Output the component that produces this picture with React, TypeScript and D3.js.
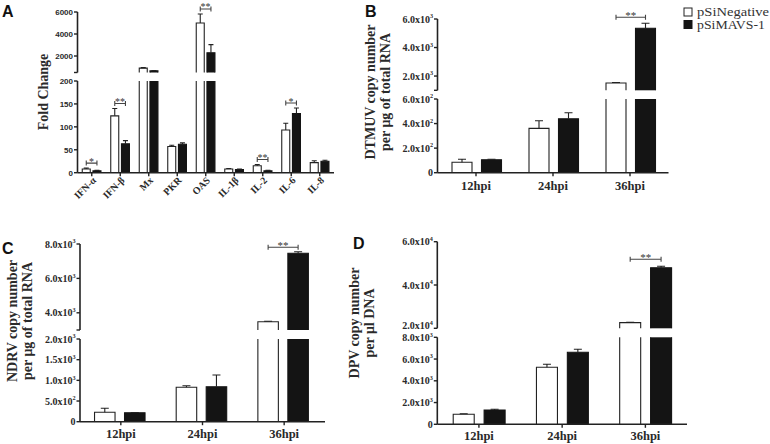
import React from "react";
import * as d3 from "d3";

// ---------- DATA ----------
const cytokines = ["IFN-α", "IFN-β", "Mx", "PKR", "OAS", "IL-1β", "IL-2", "IL-6", "IL-8"];
const foldNeg = [8, 124, 900, 57, 5000, 8, 15, 93, 22];
const foldNegErr = [2, 16, 40, 3, 820, 1, 3, 15, 4];
const foldMavs = [4, 63, 650, 62, 2300, 7, 4, 129, 25];
const foldMavsErr = [1, 7, 30, 3, 730, 1, 1, 12, 2];
const foldSig = [
  { i: 0, label: "*" },
  { i: 1, label: "**" },
  { i: 4, label: "**" },
  { i: 6, label: "**" },
  { i: 7, label: "*" },
];
const foldLowerTicks = [0, 50, 100, 150, 200];
const foldUpperTicks = [2000, 4000, 6000];

const timepoints = ["12hpi", "24hpi", "36hpi"];

const dtmuvNeg = [85, 361, 1510];
const dtmuvNegErr = [24, 62, 40];
const dtmuvMavs = [106, 439, 5350];
const dtmuvMavsErr = [3, 49, 350];
const dtmuvLowerTicks = [0, 200, 400, 600];
const dtmuvUpperTicks = [2000, 4000, 6000];

const ndrvNeg = [227, 832, 3480];
const ndrvNegErr = [97, 38, 30];
const ndrvMavs = [218, 846, 7460];
const ndrvMavsErr = [5, 284, 90];
const ndrvLowerTicks = [0, 500, 1000, 1500, 2000];
const ndrvUpperTicks = [4000, 6000, 8000];

const dpvNeg = [920, 5240, 22600];
const dpvNegErr = [55, 280, 150];
const dpvMavs = [1315, 6620, 48000];
const dpvMavsErr = [65, 280, 640];
const dpvLowerTicks = [0, 2000, 4000, 6000, 8000];
const dpvUpperTicks = [20000, 40000, 60000];

const legendLabels = ["pSiNegative", "pSiMAVS-1"];

// ---------- HELPERS ----------
const SERIF = "'Liberation Serif', 'Times New Roman', serif";
const SANS = "'Liberation Sans', Arial, sans-serif";
const INK = "#222";
const BLACK = "#141414";
const TXT = "#2a2a2a";

function sci(v: number): [string, string | null] {
  if (v === 0) return ["0", null];
  const e = Math.floor(Math.log10(v) + 1e-9);
  const m = v / Math.pow(10, e);
  return [m.toFixed(1) + "x10", String(e)];
}
function plain(v: number): [string, string | null] {
  return [String(v), null];
}

type Seg = { domain: [number, number]; range: [number, number]; ticks: number[] };

type PanelProps = {
  cats: string[];
  neg: number[];
  negErr: number[];
  mavs: number[];
  mavsErr: number[];
  x0: number;
  x1: number;
  lower: Seg;
  upper: Seg;
  fmt: (v: number) => [string, string | null];
  tickFont: string;
  tickSize: number;
  barW: number;
  whiteOff: number;
  blackOff: number;
  capW: number;
  sig: { i: number; label: string }[];
  sigGap: number;
  starSize: number;
  rotateX: boolean;
  xLabelY: number;
  xLabelSize: number;
};

function Panel(p: PanelProps) {
  const x = d3.scaleBand<string>().domain(p.cats).range([p.x0, p.x1]);
  const lo = d3.scaleLinear().domain(p.lower.domain).range(p.lower.range);
  const up = d3.scaleLinear().domain(p.upper.domain).range(p.upper.range);
  const loMax = p.lower.domain[1];
  const yv = (v: number) => (v > loMax ? up(v) : lo(v));
  const y0 = lo(0);
  const cx = (c: string) => (x(c) as number) + x.bandwidth() / 2;

  const series = [
    { vals: p.neg, errs: p.negErr, off: p.whiteOff, fill: "#fff", stroke: INK },
    { vals: p.mavs, errs: p.mavsErr, off: p.blackOff, fill: BLACK, stroke: BLACK },
  ];

  const els: React.ReactNode[] = [];
  series.forEach((s, si) => {
    p.cats.forEach((c, ci) => {
      const v = s.vals[ci];
      const bx = cx(c) + s.off;
      const pieces: { yb: number; yt: number; closed: boolean }[] = [];
      if (v <= loMax) {
        pieces.push({ yb: y0, yt: lo(v), closed: true });
      } else {
        pieces.push({ yb: y0, yt: lo(loMax), closed: false });
        pieces.push({ yb: up(p.upper.domain[0]), yt: up(v), closed: true });
      }
      pieces.forEach((pc, k) => {
        els.push(
          <rect key={`r${si}-${ci}-${k}`} x={bx} y={pc.yt} width={p.barW} height={pc.yb - pc.yt} fill={s.fill} stroke="none" />
        );
        const d = pc.closed
          ? `M${bx},${pc.yb}V${pc.yt}H${bx + p.barW}V${pc.yb}`
          : `M${bx},${pc.yb}V${pc.yt}M${bx + p.barW},${pc.yt}V${pc.yb}`;
        els.push(<path key={`o${si}-${ci}-${k}`} d={d} fill="none" stroke={s.stroke} strokeWidth={1.1} />);
      });
      // error bar
      const ex = bx + p.barW / 2;
      const yTop = yv(v + s.errs[ci]);
      els.push(
        <path
          key={`e${si}-${ci}`}
          d={`M${ex},${yv(v)}V${yTop}M${ex - p.capW / 2},${yTop}H${ex + p.capW / 2}`}
          fill="none"
          stroke={INK}
          strokeWidth={1.1}
        />
      );
    });
  });

  // significance brackets
  p.sig.forEach((g, k) => {
    const c = p.cats[g.i];
    const xa = cx(c) + p.whiteOff + p.barW / 2;
    const xb = cx(c) + p.blackOff + p.barW / 2;
    const yt = Math.min(yv(p.neg[g.i] + p.negErr[g.i]), yv(p.mavs[g.i] + p.mavsErr[g.i])) - p.sigGap;
    els.push(
      <path
        key={`s${k}`}
        d={`M${xa},${yt - 2.5}V${yt + 2.5}M${xa},${yt}H${xb}M${xb},${yt - 2.5}V${yt + 2.5}`}
        fill="none"
        stroke="#444"
        strokeWidth={1.1}
      />
    );
    els.push(
      <text key={`st${k}`} x={(xa + xb) / 2} y={yt + 1.5} textAnchor="middle" fontFamily={SERIF} fontSize={p.starSize} fill="#333">
        {g.label}
      </text>
    );
  });

  // y axis
  const axisEls: React.ReactNode[] = [];
  axisEls.push(
    <line key="yl" x1={p.x0} x2={p.x0} y1={y0} y2={p.lower.range[1]} stroke={INK} strokeWidth={1.6} />
  );
  axisEls.push(
    <line key="yu" x1={p.x0} x2={p.x0} y1={p.upper.range[0]} y2={p.upper.range[1]} stroke={INK} strokeWidth={1.6} />
  );
  const tickEls = (vals: number[], sc: (v: number) => number, pre: string, lift: (v: number) => number) =>
    vals.map((v) => {
      const yy = sc(v);
      const [t, sup] = p.fmt(v);
      return (
        <g key={`${pre}${v}`}>
          <line x1={p.x0 - 3.5} x2={p.x0} y1={yy} y2={yy} stroke={INK} strokeWidth={1.4} />
          <text
            x={p.x0 - 4.5}
            y={yy + p.tickSize * 0.35 - lift(v)}
            textAnchor="end"
            fontFamily={p.tickFont}
            fontWeight="bold"
            fontSize={p.tickSize}
            fill={TXT}
          >
            {t}
            {sup && (
              <tspan fontSize={p.tickSize * 0.62} dy={-p.tickSize * 0.42}>
                {sup}
              </tspan>
            )}
          </text>
        </g>
      );
    });
  axisEls.push(...tickEls(p.lower.ticks, lo, "lt", () => 0));
  axisEls.push(...tickEls(p.upper.ticks, up, "ut", (v) => (v === p.upper.domain[0] ? 2.5 : 0)));
  if (!p.upper.ticks.includes(p.upper.domain[0])) {
    const yy = up(p.upper.domain[0]);
    axisEls.push(<line key="endt" x1={p.x0 - 3.5} x2={p.x0} y1={yy} y2={yy} stroke={INK} strokeWidth={1.4} />);
  }

  // x axis
  axisEls.push(<line key="xa" x1={p.x0} x2={p.x1} y1={y0} y2={y0} stroke={INK} strokeWidth={1.6} />);
  p.cats.forEach((c) => {
    const xx = cx(c);
    axisEls.push(<line key={`xt${c}`} x1={xx} x2={xx} y1={y0} y2={y0 + 3.5} stroke={INK} strokeWidth={1.4} />);
    if (p.rotateX) {
      axisEls.push(
        <text
          key={`xl${c}`}
          transform={`translate(${xx + 5},${p.xLabelY}) rotate(-45)`}
          textAnchor="end"
          fontFamily={SERIF}
          fontWeight="bold"
          fontSize={p.xLabelSize}
          fill={TXT}
        >
          {c}
        </text>
      );
    } else {
      axisEls.push(
        <text
          key={`xl${c}`}
          x={xx}
          y={p.xLabelY}
          textAnchor="middle"
          fontFamily={SERIF}
          fontWeight="bold"
          fontSize={p.xLabelSize}
          fill={TXT}
        >
          {c}
        </text>
      );
    }
  });

  return (
    <g>
      {els}
      {axisEls}
    </g>
  );
}

function YLabel({ x, y, lines, size }: { x: number; y: number; lines: string[]; size: number }) {
  return (
    <text
      transform={`translate(${x},${y}) rotate(-90)`}
      textAnchor="middle"
      fontFamily={SERIF}
      fontWeight="bold"
      fontSize={size}
      fill={TXT}
    >
      {lines.map((l, i) => (
        <tspan key={i} x={0} dy={i === 0 ? 0 : size * 1.1}>
          {l}
        </tspan>
      ))}
    </text>
  );
}

function Letter({ x, y, t }: { x: number; y: number; t: string }) {
  return (
    <text x={x} y={y} fontFamily={SANS} fontWeight="bold" fontSize={16} fill="#111">
      {t}
    </text>
  );
}

export default function App() {
  return (
    <svg width={770} height={444} style={{ position: "absolute", left: 0, top: 0, background: "#fff" }}>
      <rect width={770} height={444} fill="#fff" />

      {/* Panel A */}
      <Letter x={2} y={17} t="A" />
      <YLabel x={48} y={92} lines={["Fold Change"]} size={14} />
      <Panel
        cats={cytokines}
        neg={foldNeg}
        negErr={foldNegErr}
        mavs={foldMavs}
        mavsErr={foldMavsErr}
        x0={77.5}
        x1={334}
        lower={{ domain: [0, 200], range: [172.7, 81], ticks: foldLowerTicks }}
        upper={{ domain: [500, 6000], range: [72.5, 12], ticks: foldUpperTicks }}
        fmt={plain}
        tickFont={SANS}
        tickSize={8}
        barW={8}
        whiteOff={-9.5}
        blackOff={1.2}
        capW={5}
        sig={foldSig}
        sigGap={5}
        starSize={10}
        rotateX={true}
        xLabelY={181}
        xLabelSize={10}
      />

      {/* Panel B */}
      <Letter x={365} y={17} t="B" />
      <YLabel x={375} y={92} lines={["DTMUV copy number", "per μg of total RNA"]} size={14} />
      <Panel
        cats={timepoints}
        neg={dtmuvNeg}
        negErr={dtmuvNegErr}
        mavs={dtmuvMavs}
        mavsErr={dtmuvMavsErr}
        x0={437.5}
        x1={668.5}
        lower={{ domain: [0, 600], range: [172.7, 99], ticks: dtmuvLowerTicks }}
        upper={{ domain: [1000, 6000], range: [90.3, 19], ticks: dtmuvUpperTicks }}
        fmt={sci}
        tickFont={SERIF}
        tickSize={10}
        barW={20}
        whiteOff={-24}
        blackOff={5.5}
        capW={8}
        sig={[{ i: 2, label: "**" }]}
        sigGap={6}
        starSize={11}
        rotateX={false}
        xLabelY={189.5}
        xLabelSize={12.5}
      />

      {/* Legend */}
      <rect x={684} y={8} width={8} height={8} fill="#fff" stroke={INK} strokeWidth={1} />
      <text x={697} y={16} fontFamily={SERIF} fontSize={12.5} textLength={72} lengthAdjust="spacingAndGlyphs" fill="#333">
        {legendLabels[0]}
      </text>
      <rect x={684} y={20.5} width={8} height={8} fill={BLACK} stroke={BLACK} strokeWidth={1} />
      <text x={697} y={29} fontFamily={SERIF} fontSize={12.5} textLength={68} lengthAdjust="spacingAndGlyphs" fill="#333">
        {legendLabels[1]}
      </text>

      {/* Panel C */}
      <Letter x={2} y={254} t="C" />
      <YLabel x={17} y={321} lines={["NDRV copy number", "per μg of total RNA"]} size={14} />
      <Panel
        cats={timepoints}
        neg={ndrvNeg}
        negErr={ndrvNegErr}
        mavs={ndrvMavs}
        mavsErr={ndrvMavsErr}
        x0={80}
        x1={325}
        lower={{ domain: [0, 2000], range: [421.7, 339], ticks: ndrvLowerTicks }}
        upper={{ domain: [3000, 8000], range: [330, 244], ticks: ndrvUpperTicks }}
        fmt={sci}
        tickFont={SERIF}
        tickSize={10}
        barW={20.5}
        whiteOff={-26.3}
        blackOff={3.7}
        capW={8}
        sig={[{ i: 2, label: "**" }]}
        sigGap={4.5}
        starSize={11}
        rotateX={false}
        xLabelY={438}
        xLabelSize={12.5}
      />

      {/* Panel D */}
      <Letter x={353} y={249} t="D" />
      <YLabel x={359} y={323} lines={["DPV copy number", "per μl DNA"]} size={14} />
      <Panel
        cats={timepoints}
        neg={dpvNeg}
        negErr={dpvNegErr}
        mavs={dpvMavs}
        mavsErr={dpvMavsErr}
        x0={437.3}
        x1={687}
        lower={{ domain: [0, 8000], range: [424.3, 337.3], ticks: dpvLowerTicks }}
        upper={{ domain: [20000, 60000], range: [328.3, 241.7], ticks: dpvUpperTicks }}
        fmt={sci}
        tickFont={SERIF}
        tickSize={10}
        barW={21}
        whiteOff={-25.7}
        blackOff={5.2}
        capW={8}
        sig={[{ i: 2, label: "**" }]}
        sigGap={7}
        starSize={11}
        rotateX={false}
        xLabelY={440}
        xLabelSize={12.5}
      />
    </svg>
  );
}
